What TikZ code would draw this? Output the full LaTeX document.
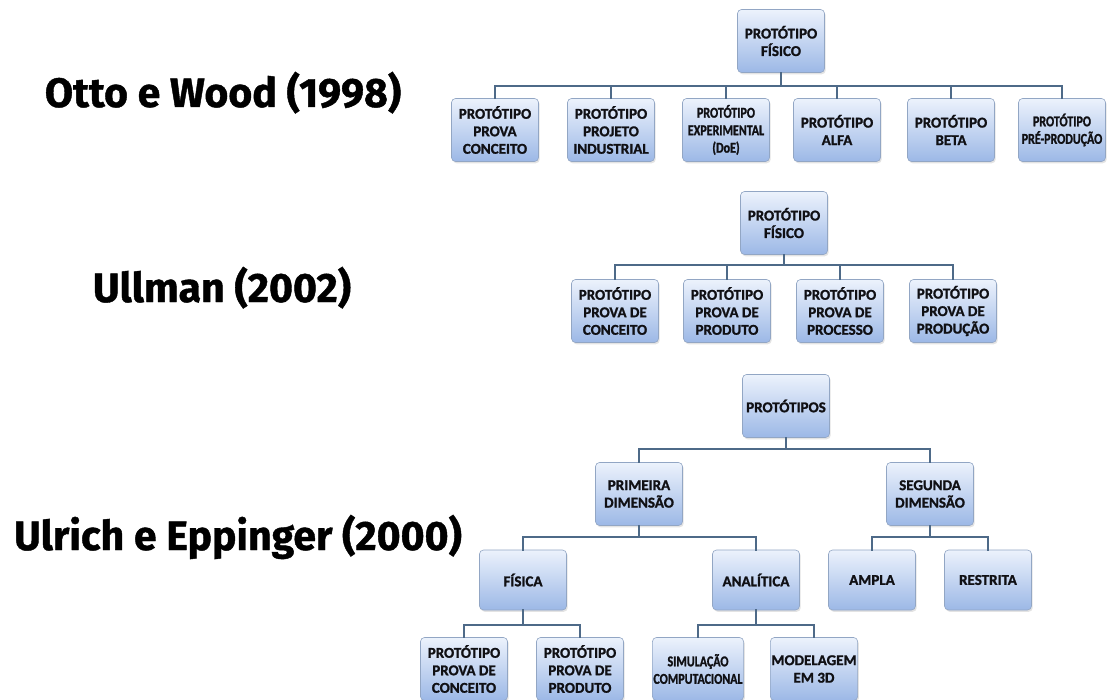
\documentclass[tikz,border=0pt]{standalone}
\usepackage{fontspec}
\setmainfont{Carlito}[BoldFeatures={FakeBold=1.3}]
\newfontfamily\narrowfamily{Carlito}[FakeStretch=0.8,BoldFeatures={FakeBold=1.3}]
\newfontfamily\titlefamily{Fira Sans}[BoldFeatures={FakeBold=1}]
\usepackage{tikz}
\usetikzlibrary{shadows}
\definecolor{ProtTop}{RGB}{236,242,252}
\definecolor{ProtBottom}{RGB}{156,184,230}
\definecolor{ProtFrame}{RGB}{146,166,196}
\definecolor{ProtInk}{RGB}{16,16,20}
\definecolor{ProtLink}{RGB}{78,106,136}

\begin{document}
\begin{tikzpicture}[
x=1pt,
y=-1pt,
every node/.style={outer sep=0pt},
protbox/.style={draw=ProtFrame,line width=0.6pt,rounded corners=4pt,top color=ProtTop,bottom color=ProtBottom,minimum width=87pt,minimum height=63pt,inner sep=1pt,align=center,text=ProtInk,font=\fontsize{15}{17.5}\selectfont\bfseries,drop shadow={opacity=0.22,shadow xshift=1.2pt,shadow yshift=-1.8pt}},
protsmall/.style={protbox,font=\fontsize{15}{17.5}\selectfont\narrowfamily\bfseries},
protlow/.style={protbox,minimum height=60pt},
authortitle/.style={font=\fontsize{41}{44}\selectfont\titlefamily\bfseries,text=black,anchor=base,inner sep=0pt},
treelink/.style={draw=ProtLink,line width=1.8pt,line cap=rect,line join=miter}
]

\path[use as bounding box,fill=white] (0,0) rectangle (1110,700);

% titles
\node[authortitle] (owtitle) at (223,107) {Otto e Wood (1998)};
\node[authortitle] (ultitle) at (222,302) {Ullman (2002)};
\node[authortitle] (uetitle) at (238,550) {Ulrich e Eppinger (2000)};

% Otto e Wood
\node[protbox] (owroot) at (781,41) {PROTÓTIPO\\FÍSICO};
\node[protbox] (owconceito) at (495,130) {PROTÓTIPO\\PROVA\\CONCEITO};
\node[protbox] (owindustrial) at (611,130) {PROTÓTIPO\\PROJETO\\INDUSTRIAL};
\node[protsmall] (owexperimental) at (726,130) {PROTÓTIPO\\EXPERIMENTAL\\(DoE)};
\node[protbox] (owalfa) at (837,130) {PROTÓTIPO\\ALFA};
\node[protbox] (owbeta) at (951,130) {PROTÓTIPO\\BETA};
\node[protsmall] (owpreprod) at (1062,130) {PROTÓTIPO\\PRÉ-PRODUÇÃO};

% Ullman
\node[protbox] (ulroot) at (784,223) {PROTÓTIPO\\FÍSICO};
\node[protbox] (ulconceito) at (615,311) {PROTÓTIPO\\PROVA DE\\CONCEITO};
\node[protbox] (ulproduto) at (727,311) {PROTÓTIPO\\PROVA DE\\PRODUTO};
\node[protbox] (ulprocesso) at (840,311) {PROTÓTIPO\\PROVA DE\\PROCESSO};
\node[protbox] (ulproducao) at (953,311) {PROTÓTIPO\\PROVA DE\\PRODUÇÃO};

% Ulrich e Eppinger
\node[protbox] (ueroot) at (786,406) {PROTÓTIPOS};
\node[protbox] (ueprimeira) at (639,494) {PRIMEIRA\\DIMENSÃO};
\node[protbox] (uesegunda) at (930,494) {SEGUNDA\\DIMENSÃO};
\node[protlow] (uefisica) at (523,580) {FÍSICA};
\node[protlow] (ueanalitica) at (756,580) {ANALÍTICA};
\node[protlow] (ueampla) at (872,580) {AMPLA};
\node[protlow] (uerestrita) at (988,580) {RESTRITA};
\node[protbox] (uefisconceito) at (464,669) {PROTÓTIPO\\PROVA DE\\CONCEITO};
\node[protbox] (uefisproduto) at (580,669) {PROTÓTIPO\\PROVA DE\\PRODUTO};
\node[protsmall] (uesimulacao) at (698,669) {SIMULAÇÃO\\COMPUTACIONAL};
\node[protbox] (uemodelagem) at (814,669) {MODELAGEM\\EM 3D};

\coordinate (owSplit) at (781,86);
\coordinate (ulSplit) at (784,265);
\coordinate (ueSplit) at (786,449);
\coordinate (priSplit) at (639,537);
\coordinate (segSplit) at (930,537);
\coordinate (fisSplit) at (523,625);
\coordinate (anaSplit) at (756,625);

\draw[treelink] (owroot.south) -- (owSplit);
\draw[treelink] (owSplit) -| (owconceito.north);
\draw[treelink] (owSplit) -| (owindustrial.north);
\draw[treelink] (owSplit) -| (owexperimental.north);
\draw[treelink] (owSplit) -| (owalfa.north);
\draw[treelink] (owSplit) -| (owbeta.north);
\draw[treelink] (owSplit) -| (owpreprod.north);

\draw[treelink] (ulroot.south) -- (ulSplit);
\draw[treelink] (ulSplit) -| (ulconceito.north);
\draw[treelink] (ulSplit) -| (ulproduto.north);
\draw[treelink] (ulSplit) -| (ulprocesso.north);
\draw[treelink] (ulSplit) -| (ulproducao.north);

\draw[treelink] (ueroot.south) -- (ueSplit);
\draw[treelink] (ueSplit) -| (ueprimeira.north);
\draw[treelink] (ueSplit) -| (uesegunda.north);

\draw[treelink] (ueprimeira.south) -- (priSplit);
\draw[treelink] (priSplit) -| (uefisica.north);
\draw[treelink] (priSplit) -| (ueanalitica.north);
\draw[treelink] (uesegunda.south) -- (segSplit);
\draw[treelink] (segSplit) -| (ueampla.north);
\draw[treelink] (segSplit) -| (uerestrita.north);

\draw[treelink] (uefisica.south) -- (fisSplit);
\draw[treelink] (fisSplit) -| (uefisconceito.north);
\draw[treelink] (fisSplit) -| (uefisproduto.north);
\draw[treelink] (ueanalitica.south) -- (anaSplit);
\draw[treelink] (anaSplit) -| (uesimulacao.north);
\draw[treelink] (anaSplit) -| (uemodelagem.north);

\end{tikzpicture}
\end{document}
